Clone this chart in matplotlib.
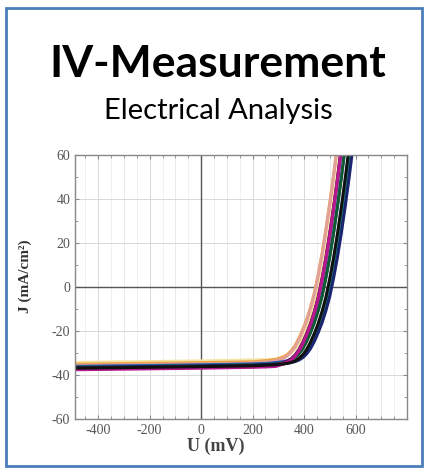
import matplotlib
matplotlib.use("Agg")
import matplotlib.pyplot as plt
from matplotlib.patches import Rectangle
from matplotlib.ticker import MultipleLocator

plt.rcParams['axes.unicode_minus'] = False

title = "IV-Measurement"
subtitle = "Electrical Analysis"
x_label = "U (mV)"
y_label = "J (mA/cm²)"

# shared voltage grid (mV)
U_mV = [-490, -200, 0, 200, 260, 290, 320, 335, 350, 365, 380, 395, 410,
        425, 440, 455, 470, 485, 500, 515, 530, 545, 560, 575, 590, 605]

# current density of each measured cell (mA/cm2)
J_yellow = [-34.3, -33.9, -33.6, -33.2, -33.0, -32.8, -31.7, -31.0, -29.9, -28.2, -25.8, -22.5, -18.5,
            -14.0, -8.5, -2.0, 6.5, 16.0, 27.0, 39.0, 52.0, 66.0, 81.0, 97.0, 114.0, 132.0]
J_cyan = [-36.0, -35.6, -35.3, -34.9, -34.6, -34.4, -34.3, -34.1, -33.8, -33.4, -32.7, -31.6, -29.9,
          -27.5, -24.2, -20.2, -15.7, -10.2, -3.7, 4.8, 14.3, 25.3, 37.3, 50.3, 64.3, 79.3]
J_orange = [-35.1, -34.7, -34.4, -34.0, -33.4, -32.9, -31.8, -30.7, -29.0, -26.6, -23.3, -19.3, -14.8,
            -9.3, -2.8, 5.7, 15.2, 26.2, 38.2, 51.2, 65.2, 80.0, 96.0, 112.0, 130.0, 150.0]
J_pink = [-35.7, -35.3, -35.0, -34.6, -34.0, -33.5, -32.4, -31.3, -29.6, -27.2, -23.9, -19.9, -15.4,
          -9.9, -3.4, 5.1, 14.6, 25.6, 37.6, 50.6, 64.6, 79.6, 95.6, 112.0, 130.0, 150.0]
J_blue = [-36.1, -35.7, -35.4, -35.0, -34.7, -34.4, -33.9, -33.5, -32.8, -31.7, -30.0, -27.6, -24.3,
          -20.3, -15.8, -10.3, -3.8, 4.7, 14.2, 25.2, 37.2, 50.2, 64.2, 79.2, 95.0, 112.0]
J_dgreen = [-36.6, -36.2, -35.9, -35.5, -35.2, -34.9, -34.4, -34.0, -33.3, -32.2, -30.5, -28.1, -24.8,
            -20.8, -16.3, -10.8, -4.3, 4.2, 13.7, 24.7, 36.7, 49.7, 63.7, 78.7, 95.0, 112.0]
J_teal = [-36.3, -35.9, -35.6, -35.2, -34.9, -34.7, -34.5, -34.3, -33.9, -33.4, -32.5, -31.1, -29.0,
          -26.2, -22.6, -18.3, -13.3, -7.3, 0.2, 9.3, 19.5, 31.0, 43.5, 57.0, 71.5, 87.0]
J_navy = [-36.5, -36.1, -35.8, -35.4, -35.1, -34.9, -34.8, -34.6, -34.3, -33.9, -33.2, -32.1, -30.4,
          -28.0, -24.7, -20.7, -16.2, -10.7, -4.2, 4.3, 13.8, 24.8, 36.8, 49.8, 63.8, 78.8]
J_maroon = [-37.0, -36.6, -36.3, -35.9, -35.7, -35.5, -34.4, -33.7, -32.6, -30.9, -28.5, -25.2, -21.2,
            -16.7, -11.2, -4.7, 3.8, 13.3, 24.3, 36.3, 49.3, 63.3, 78.3, 94.3, 111.0, 129.0]
J_purple = [-37.3, -36.9, -36.6, -36.2, -36.0, -35.8, -34.7, -34.0, -32.9, -31.2, -28.8, -25.5, -21.5,
            -17.0, -11.5, -5.0, 3.5, 13.0, 24.0, 36.0, 49.0, 63.0, 78.0, 94.0, 111.0, 129.0]
J_magenta = [-37.6, -37.2, -36.9, -36.5, -36.3, -36.1, -35.0, -34.3, -33.2, -31.5, -29.1, -25.8, -21.8,
             -17.3, -11.8, -5.3, 3.2, 12.7, 23.7, 35.7, 48.7, 62.7, 77.7, 93.7, 111.0, 129.0]
J_black = [-36.9, -36.5, -36.2, -35.8, -35.5, -35.3, -35.0, -34.7, -34.3, -33.6, -32.5, -30.8, -28.4,
           -25.1, -21.1, -16.6, -11.1, -4.6, 3.9, 13.4, 24.4, 36.4, 49.4, 63.4, 78.0, 94.0]

curves = [
    (J_yellow, "#f3e3a0"),
    (J_cyan, "#a8e4ee"),
    (J_orange, "#eda24a"),
    (J_pink, "#e2a096"),
    (J_blue, "#2f3fcc"),
    (J_dgreen, "#0f5c32"),
    (J_teal, "#17907a"),
    (J_navy, "#1c2470"),
    (J_maroon, "#7a1030"),
    (J_purple, "#5c1c7c"),
    (J_magenta, "#b8188e"),
    (J_black, "#111111"),
]

fig = plt.figure(figsize=(4.26, 4.72), dpi=100)

# blue frame round the card
fig.patches.append(Rectangle((6 / 426, 1 - 466 / 472), 416 / 426, 458 / 472,
                             transform=fig.transFigure, fill=False,
                             edgecolor="#4a7ebb", lw=2))

fig.text(0.51, 1 - 64 / 472, title, ha="center", va="center",
         fontfamily="Lato", fontweight="bold", fontsize=32)
fig.text(0.512, 1 - 111 / 472, subtitle, ha="center", va="center",
         fontfamily="Lato", fontsize=21)

ax = fig.add_axes([75 / 426, 1 - 419 / 472, 332 / 426, 264 / 472])

for J, c in curves:
    ax.plot(U_mV, J, color=c, lw=2.2, solid_capstyle="butt")

ax.axhline(0, color="#555555", lw=1.0, zorder=1)
ax.axvline(0, color="#555555", lw=1.0, zorder=1)

ax.set_xlim(-490, 800)
ax.set_ylim(-60, 60)
ax.xaxis.set_minor_locator(MultipleLocator(50))
ax.yaxis.set_major_locator(MultipleLocator(20))
ax.yaxis.set_minor_locator(MultipleLocator(10))
ax.set_xticks([-400, -200, 0, 200, 400, 600])

ax.grid(True, which="major", color="#d8d8d8", lw=0.7)
ax.xaxis.grid(True, which="minor", color="#eeeeee", lw=0.6)
ax.set_axisbelow(True)
# extra vertical grid lines every 100 mV
for u in range(-400, 800, 200):
    ax.axvline(u + 100, color="#d8d8d8", lw=0.7, zorder=0)

ax.tick_params(which="both", direction="in", top=True, right=True,
               color="#888888", labelcolor="#555555")
ax.tick_params(which="major", length=3)
ax.tick_params(which="minor", length=2)
for lab in ax.get_xticklabels() + ax.get_yticklabels():
    lab.set_fontfamily("Liberation Serif")
    lab.set_fontsize(10)
for s in ax.spines.values():
    s.set_color("#888888")
    s.set_linewidth(1.0)

ax.set_xlabel(x_label, fontfamily="Liberation Serif", fontweight="bold",
              fontsize=13, color="#444444")
ax.xaxis.set_label_coords(0.425, -0.072)
ax.set_ylabel(y_label, fontfamily="Liberation Serif", fontweight="bold",
              fontsize=11, color="#333333")
ax.yaxis.set_label_coords(-0.13, 0.54)

fig.savefig("out.png", dpi=100)
